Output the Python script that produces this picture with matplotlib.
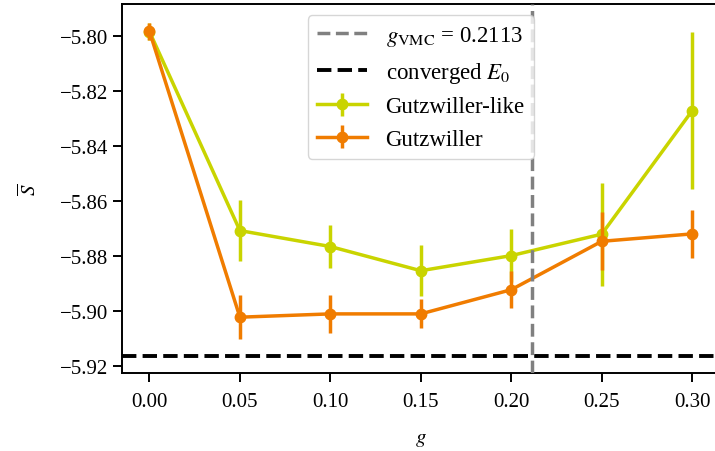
import matplotlib.pyplot as plt

plt.rcParams['font.family'] = ['Liberation Serif', 'DejaVu Serif']
plt.rcParams['mathtext.fontset'] = 'stix'
plt.rcParams['font.size'] = 15

# data
g = [0.00, 0.05, 0.10, 0.15, 0.20, 0.25, 0.30]
s_like = [-5.7985, -5.8709, -5.8767, -5.8855, -5.8800, -5.8722, -5.8273]
err_like = [0.003, 0.0112, 0.0079, 0.0092, 0.0097, 0.0187, 0.0285]
s_gutz = [-5.7984, -5.9024, -5.9012, -5.9012, -5.8924, -5.8748, -5.8721]
err_gutz = [0.003, 0.0079, 0.0069, 0.0053, 0.0067, 0.0105, 0.0088]
g_vmc = 0.2113
e0 = -5.9166

fig = plt.figure(figsize=(7.15, 4.52), dpi=100)
# right spine sits just past the image edge, like the reference
ax = fig.add_axes([122.3/715, 1 - 374/452, 597/715, 369.5/452])

c_like = '#c9d400'
c_gutz = '#f07c00'

h_vmc = ax.axvline(g_vmc, color='#808080', ls='--', lw=2.5, zorder=4,
                   label=r'$g_{\mathrm{VMC}}$ = 0.2113')
h_e0 = ax.axhline(e0, color='black', ls='--', lw=2.8, zorder=1,
                  label=r'converged $E_0$')
h_like = ax.errorbar(g, s_like, yerr=err_like, color=c_like, marker='o', ms=7.5,
                     lw=2.5, elinewidth=2.5, capsize=0, label='Gutzwiller-like', zorder=2)
h_gutz = ax.errorbar(g, s_gutz, yerr=err_gutz, color=c_gutz, marker='o', ms=7.5,
                     lw=2.5, elinewidth=2.5, capsize=0, label='Gutzwiller', zorder=3)

ax.set_xlim(-0.015, 0.315)
ax.set_ylim(-5.9227, -5.7883)
ax.set_xticks([0.00, 0.05, 0.10, 0.15, 0.20, 0.25, 0.30])
ax.set_yticks([-5.80, -5.82, -5.84, -5.86, -5.88, -5.90, -5.92])
ax.set_xticklabels(['0.00', '0.05', '0.10', '0.15', '0.20', '0.25', '0.30'])
ax.set_yticklabels(['\u22125.80', '\u22125.82', '\u22125.84', '\u22125.86',
                    '\u22125.88', '\u22125.90', '\u22125.92'])
ax.tick_params(width=1.4, length=6.5)
ax.tick_params(axis='x', pad=7)
for sp in ax.spines.values():
    sp.set_linewidth(1.4)

ax.set_xlabel(r'$g$', labelpad=13)
ax.set_ylabel(r'$\overline{S}$', labelpad=14)

leg = ax.legend(handles=[h_vmc, h_e0, h_like, h_gutz], loc='upper center',
                fontsize=16.5, handlelength=2.2)
leg.set_zorder(6)

fig.savefig('out.png', dpi=100)
